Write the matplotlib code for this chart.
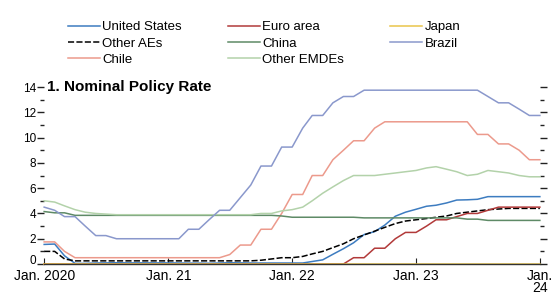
import numpy as np
import pandas as pd
import matplotlib
matplotlib.use("Agg")
import matplotlib.pyplot as plt
import matplotlib.transforms as mtransforms
from matplotlib.ticker import MultipleLocator

plt.rcParams['font.family'] = ['Liberation Sans', 'DejaVu Sans']

# monthly, Jan 2020 - Jan 2024 (49 points)
months = pd.date_range('2020-01-01', '2024-01-01', freq='MS')

us = [1.55, 1.58, 0.65, 0.05, 0.05, 0.08, 0.09, 0.1, 0.09, 0.09, 0.09, 0.09,
      0.09, 0.08, 0.07, 0.07, 0.06, 0.08, 0.1, 0.09, 0.08, 0.08, 0.08, 0.08,
      0.08, 0.08, 0.2, 0.33, 0.77, 1.21, 1.68, 2.33, 2.56, 3.08, 3.78, 4.1,
      4.33, 4.57, 4.65, 4.83, 5.06, 5.08, 5.12, 5.33, 5.33, 5.33, 5.33, 5.33, 5.33]
euro = [0.0] * 30 + [0.5, 0.5, 1.25, 1.25, 2.0, 2.5, 2.5, 3.0, 3.5, 3.5,
                     3.75, 4.0, 4.0, 4.25, 4.5, 4.5, 4.5, 4.5, 4.5]
japan = [0.0] * 49
other_aes = [1.0, 1.0, 0.4, 0.25, 0.25, 0.25, 0.25, 0.25, 0.25, 0.25, 0.25, 0.25,
             0.25, 0.25, 0.25, 0.25, 0.25, 0.25, 0.25, 0.25, 0.25, 0.3, 0.4, 0.5,
             0.5, 0.6, 0.8, 1.0, 1.3, 1.6, 2.0, 2.3, 2.6, 2.9, 3.2, 3.4,
             3.5, 3.6, 3.7, 3.8, 4.0, 4.1, 4.2, 4.3, 4.35, 4.4, 4.4, 4.4, 4.4]
china = [4.15, 4.05, 4.05, 3.85, 3.85, 3.85, 3.85, 3.85, 3.85, 3.85, 3.85, 3.85,
         3.85, 3.85, 3.85, 3.85, 3.85, 3.85, 3.85, 3.85, 3.85, 3.85, 3.85, 3.8,
         3.7, 3.7, 3.7, 3.7, 3.7, 3.7, 3.7, 3.65, 3.65, 3.65, 3.65, 3.65,
         3.65, 3.65, 3.65, 3.65, 3.65, 3.55, 3.55, 3.45, 3.45, 3.45, 3.45, 3.45, 3.45]
brazil = [4.5, 4.25, 3.75, 3.75, 3.0, 2.25, 2.25, 2.0, 2.0, 2.0, 2.0, 2.0,
          2.0, 2.0, 2.75, 2.75, 3.5, 4.25, 4.25, 5.25, 6.25, 7.75, 7.75, 9.25,
          9.25, 10.75, 11.75, 11.75, 12.75, 13.25, 13.25, 13.75, 13.75, 13.75, 13.75, 13.75,
          13.75, 13.75, 13.75, 13.75, 13.75, 13.75, 13.75, 13.25, 12.75, 12.75, 12.25, 11.75, 11.75]
chile = [1.75, 1.75, 1.0, 0.5, 0.5, 0.5, 0.5, 0.5, 0.5, 0.5, 0.5, 0.5,
         0.5, 0.5, 0.5, 0.5, 0.5, 0.5, 0.75, 1.5, 1.5, 2.75, 2.75, 4.0,
         5.5, 5.5, 7.0, 7.0, 8.25, 9.0, 9.75, 9.75, 10.75, 11.25, 11.25, 11.25,
         11.25, 11.25, 11.25, 11.25, 11.25, 11.25, 10.25, 10.25, 9.5, 9.5, 9.0, 8.25, 8.25]
other_emdes = [5.0, 4.9, 4.6, 4.3, 4.1, 4.0, 3.95, 3.9, 3.9, 3.9, 3.9, 3.9,
               3.9, 3.9, 3.9, 3.9, 3.9, 3.9, 3.9, 3.9, 3.9, 4.0, 4.0, 4.2,
               4.3, 4.5, 5.0, 5.6, 6.1, 6.6, 7.0, 7.0, 7.0, 7.1, 7.2, 7.3,
               7.4, 7.6, 7.7, 7.5, 7.3, 7.0, 7.1, 7.4, 7.3, 7.2, 7.0, 6.9, 6.9]

y_ticks = [0, 2, 4, 6, 8, 10, 12, 14]
x_labels = ['Jan. 2020', 'Jan. 21', 'Jan. 22', 'Jan. 23', 'Jan.\n24']

series = [
    ("United States", us, "#3d7cc0", "-"),
    ("Other AEs", other_aes, "black", (0, (4, 1.5))),
    ("Chile", chile, "#ec9a8c", "-"),
    ("Euro area", euro, "#b23a3a", "-"),
    ("China", china, "#5e8a66", "-"),
    ("Other EMDEs", other_emdes, "#b3d2aa", "-"),
    ("Japan", japan, "#e9c54a", "-"),
    ("Brazil", brazil, "#8a98cc", "-"),
]

fig = plt.figure(figsize=(5.52, 2.95), dpi=100)
ax = fig.add_axes([0.08, 0.105, 0.898, 0.6])

handles = []
for name, vals, col, ls in series:
    ln, = ax.plot(months, vals, color=col, lw=1.1, linestyle=ls, label=name,
                  clip_on=False)
    handles.append(ln)

ax.set_ylim(0, 14)
ax.set_xlim(months[0], months[-1])
ax.set_yticks(y_ticks)
ax.yaxis.set_minor_locator(MultipleLocator(1))
ax.tick_params(axis='y', which='both', left=True, right=True, labelsize=8.5,
               color='#222222', width=1.0)
ax.tick_params(axis='y', which='major', length=5, pad=1)
ax.tick_params(axis='y', which='minor', length=3)

# nudge the "0" label up so it clears the first date label
lbl0 = ax.get_yticklabels()[0]
lbl0.set_transform(lbl0.get_transform() +
                   mtransforms.ScaledTranslation(0, 3 / 72, fig.dpi_scale_trans))

xt = pd.to_datetime(['2020-01-01', '2021-01-01', '2022-01-01', '2023-01-01', '2024-01-01'])
ax.set_xticks(xt)
ax.set_xticklabels(x_labels, linespacing=0.85)
ax.tick_params(axis='x', direction='in', length=4, labelsize=10, pad=3.5, color='#222222')
ax.xaxis.set_minor_locator(plt.NullLocator())

for s in ['top', 'left', 'right']:
    ax.spines[s].set_visible(False)
ax.spines['bottom'].set_color('#333333')
ax.spines['bottom'].set_linewidth(1.0)

ax.text(0.005, 14, "1. Nominal Policy Rate", transform=ax.get_yaxis_transform(),
        fontsize=11, fontweight='bold', va='center', ha='left')

fig.legend(handles=handles, loc='upper left', bbox_to_anchor=(0.123, 0.928),
           ncol=3, frameon=False, fontsize=9.5, handlelength=2.4,
           handletextpad=0.2, columnspacing=3.5, labelspacing=0.3,
           borderaxespad=0, borderpad=0)

fig.savefig("out.png", dpi=100)
